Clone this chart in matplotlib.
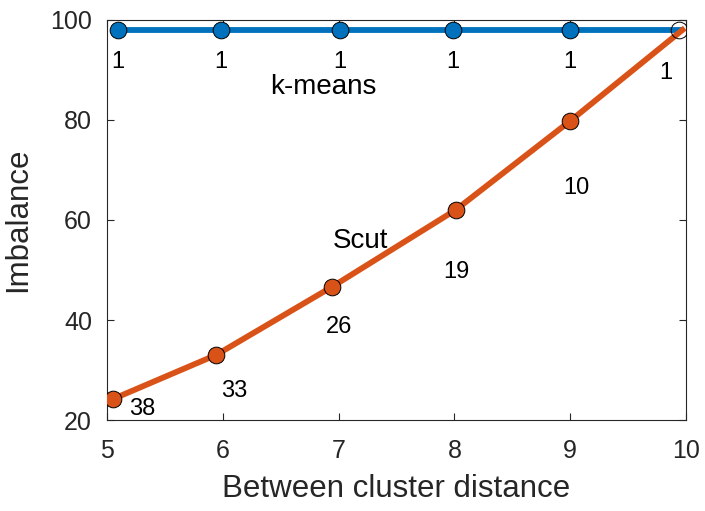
import numpy as np
import matplotlib.pyplot as plt

plt.rcParams['font.family'] = ['Liberation Sans', 'DejaVu Sans']

# data
kmeans_x = [5.09, 5.98, 7.01, 7.99, 9.0, 9.94]
kmeans_y = [98, 98, 98, 98, 98, 98]
scut_x = [5.05, 5.94, 6.94, 8.01, 9.0, 9.97]
scut_y = [24.2, 33.0, 46.6, 62.0, 79.8, 98.0]

kmeans_counts = ['1', '1', '1', '1', '1', '1']
kmeans_lx = [5.09, 5.98, 7.01, 7.99, 9.0, 9.83]
kmeans_ly = [91.6, 91.6, 91.6, 91.6, 91.6, 89.4]
scut_counts = ['38', '33', '26', '19', '10']
scut_lx = [5.30, 6.1, 7.0, 8.02, 9.05]
scut_ly = [22.2, 25.8, 38.6, 49.6, 66.4]

blue = '#0072BD'
orange = '#D95319'
grey = '#262626'

fig = plt.figure(figsize=(7.05, 5.11), dpi=100)
ax = fig.add_axes([0.152, 0.178, 0.821, 0.783])

ax.plot(kmeans_x, kmeans_y, color=blue, lw=4.2, zorder=2)
ax.plot(kmeans_x[:-1], kmeans_y[:-1], 'o', color=blue, ms=12,
        mec='black', mew=0.7, zorder=3)
ax.plot(scut_x, scut_y, color=orange, lw=4.2, zorder=4)
ax.plot(scut_x[:-1], scut_y[:-1], 'o', color=orange, ms=12,
        mec='black', mew=0.7, zorder=5)
ax.plot(kmeans_x[-1], kmeans_y[-1], 'o', mfc='none', ms=12,
        mec='black', mew=0.7, zorder=6)

for t, x, y in zip(kmeans_counts, kmeans_lx, kmeans_ly):
    ax.text(x, y, t, ha='center', va='center', fontsize=17)
for t, x, y in zip(scut_counts, scut_lx, scut_ly):
    ax.text(x, y, t, ha='center', va='center', fontsize=17)

ax.text(6.87, 86.6, 'k-means', ha='center', va='center', fontsize=20)
ax.text(7.19, 55.8, 'Scut', ha='center', va='center', fontsize=20)

ax.set_xlim(5, 10)
ax.set_ylim(20, 100)
ax.set_xticks([5, 6, 7, 8, 9, 10])
ax.set_yticks([20, 40, 60, 80, 100])
ax.tick_params(direction='in', top=True, right=True, length=5,
               width=0.8, colors=grey, labelsize=18)
ax.tick_params(axis='x', pad=14)
ax.tick_params(axis='y', pad=11)
for s in ax.spines.values():
    s.set_color(grey)
    s.set_linewidth(0.8)

ax.set_xlabel('Between cluster distance', fontsize=22.5, color=grey)
ax.set_ylabel('Imbalance', fontsize=22.5, color=grey)
ax.xaxis.set_label_coords(0.5, -0.135)
ax.yaxis.set_label_coords(-0.128, 0.5)

fig.savefig('out.png', dpi=100)
